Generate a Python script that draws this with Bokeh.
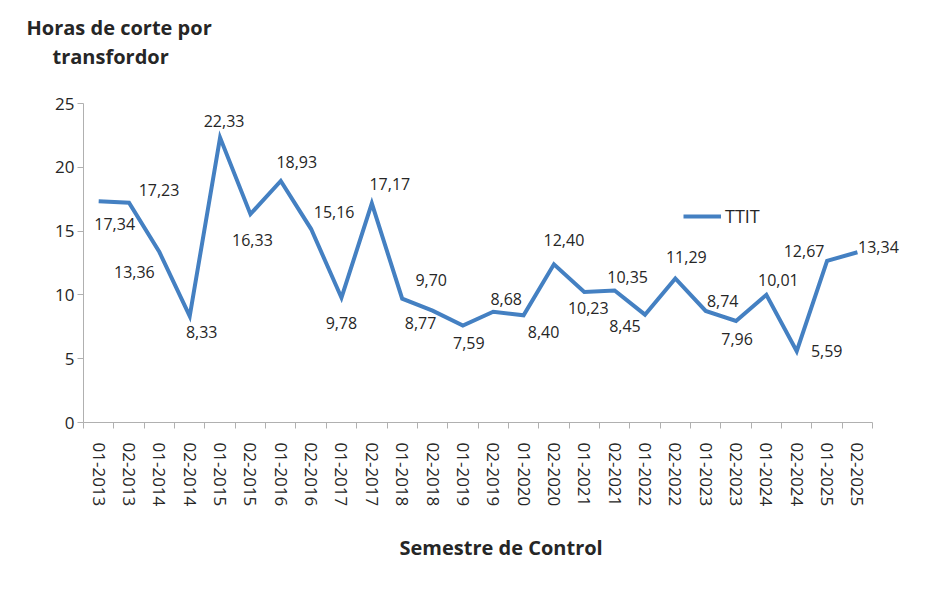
from bokeh.plotting import figure
from bokeh.models import Range1d, FixedTicker, Title, ColumnDataSource
from bokeh.core.properties import value
from bokeh.embed import file_html
from bokeh.resources import INLINE

categories = ["01-2013", "02-2013", "01-2014", "02-2014", "01-2015", "02-2015",
              "01-2016", "02-2016", "01-2017", "02-2017", "01-2018", "02-2018",
              "01-2019", "02-2019", "01-2020", "02-2020", "01-2021", "02-2021",
              "01-2022", "02-2022", "01-2023", "02-2023", "01-2024", "02-2024",
              "01-2025", "02-2025"]
ttit = [17.34, 17.23, 13.36, 8.33, 22.33, 16.33, 18.93, 15.16, 9.78, 17.17,
        9.70, 8.77, 7.59, 8.68, 8.40, 12.40, 10.23, 10.35, 8.45, 11.29,
        8.74, 7.96, 10.01, 5.59, 12.67, 13.34]
y_ticks = [0, 5, 10, 15, 20, 25]

# label placement (pixel offsets, style only)
label_dx = [16, 30, -25, 12, 4, 2, 16, 23, 0, 18, 29, -12, 6, 13, 20, 10, 4, 13, -20, 11, 17, 1, 12, 30, -23, 21]
label_dy = [23, -13, 20, 16, -17, 26, -19, -17, 25, -19, -19, 12, 17, -13, 17, -24, 16, -13, 11, -21, -10, 18, -15, 0, -10, -5]

FONT = "Open Sans"
TXT = "#262626"
AX = "#b0b0b0"
BLUE = "#4480c2"

n = len(categories)
xs = [i + 0.5 for i in range(n)]
src = ColumnDataSource(dict(
    x=xs, y=ttit,
    lab=[f"{v:.2f}".replace(".", ",") for v in ttit],
    dx=label_dx, dy=label_dy,
))

p = figure(width=920, height=585, output_backend="svg", toolbar_location=None,
           x_range=Range1d(0, n * 827 / 789.1), y_range=Range1d(0, 25),
           min_border_left=83, min_border_right=10, min_border_top=103, min_border_bottom=163)
p.outline_line_color = None
p.xgrid.visible = False
p.ygrid.visible = False
p.title.visible = False

p.line("x", "y", source=src, line_color=BLUE, line_width=4, legend_label="TTIT",
       line_join="miter")
p.text("x", "y", text="lab", source=src, x_offset="dx", y_offset="dy",
       text_align="center", text_baseline="middle", text_font=value(FONT),
       text_font_size="16px", text_color=TXT)

# x axis: labels at centers, tick marks at boundaries
xa = p.xaxis[0]
xa.bounds = (0, n)
xa.ticker = FixedTicker(ticks=xs, minor_ticks=list(range(n + 1)))
xa.major_label_overrides = {x: c for x, c in zip(xs, categories)}
xa.major_label_orientation = "vertical"
xa.major_tick_line_color = None
xa.major_tick_out = 6
xa.major_tick_in = 0
xa.minor_tick_line_color = AX
xa.minor_tick_out = 6
xa.minor_tick_in = 0
xa.major_label_standoff = 14
xa.axis_line_color = AX
xa.major_label_text_font = FONT
xa.major_label_text_font_size = "17px"
xa.major_label_text_color = TXT

ya = p.yaxis[0]
ya.ticker = FixedTicker(ticks=y_ticks)
ya.minor_tick_line_color = None
ya.major_tick_out = 6
ya.major_tick_in = 0
ya.major_tick_line_color = AX
ya.axis_line_color = AX
ya.major_label_standoff = 3
ya.major_label_text_font = FONT
ya.major_label_text_font_size = "17px"
ya.major_label_text_color = TXT

# titles (spacer keeps the two-line title near the top)
spacer = Title(text=" ", standoff=31, text_font_size="1px")
t2 = Title(text="transfordor", align="left", offset=-31, standoff=0, text_line_height=0.85,
           text_font=FONT, text_font_size="20px", text_font_style="bold", text_color=TXT)
t1 = Title(text="Horas de corte por", align="left", offset=-57, standoff=0,
           text_font=FONT, text_font_size="20px", text_font_style="bold", text_color=TXT)
p.add_layout(spacer, "above")
p.add_layout(t2, "above")
p.add_layout(t1, "above")

tx = Title(text="Semestre de Control", align="left", offset=316, standoff=44,
           text_font=FONT, text_font_size="20px", text_font_style="bold", text_color=TXT)
p.add_layout(tx, "below")

lg = p.legend[0]
lg.location = (600, 194)
lg.background_fill_alpha = 0
lg.border_line_color = None
lg.padding = 0
lg.margin = 0
lg.glyph_width = 38
lg.label_standoff = 4
lg.label_text_font = FONT
lg.label_text_font_size = "18px"
lg.label_text_color = TXT

open("out.html", "w").write(file_html(p, INLINE))
